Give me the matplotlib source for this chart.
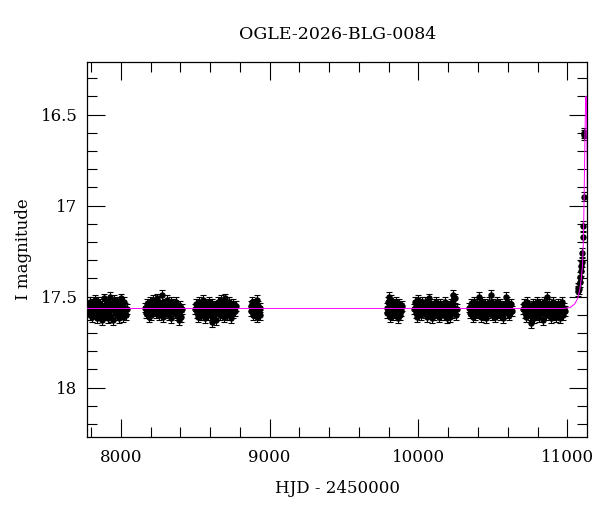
import matplotlib
matplotlib.use("Agg")
import matplotlib.pyplot as plt
from matplotlib.ticker import MultipleLocator

plt.rcParams['font.family'] = ['DejaVu Serif']

title = "OGLE-2026-BLG-0084"

# season 1
t1 = [7782, 7786, 7790, 7794, 7799, 7803, 7807, 7811, 7816, 7820,
      7824, 7829, 7833, 7837, 7842, 7846, 7850, 7855, 7859, 7863,
      7868, 7872, 7876, 7881, 7885, 7889, 7894, 7898, 7902, 7907,
      7911, 7915, 7920, 7924, 7928, 7933, 7937, 7941, 7946, 7950,
      7954, 7959, 7963, 7967, 7972, 7976, 7980, 7985, 7989, 7993,
      7998, 8002, 8006, 8011, 8015, 8019, 8024, 8028, 8032, 8040]
m1 = [17.57, 17.55, 17.60, 17.53, 17.58, 17.56, 17.61, 17.54, 17.57, 17.59,
      17.52, 17.58, 17.55, 17.62, 17.56, 17.53, 17.59, 17.57, 17.54, 17.60,
      17.56, 17.63, 17.55, 17.58, 17.51, 17.57, 17.60, 17.54, 17.59, 17.56,
      17.62, 17.53, 17.58, 17.55, 17.50, 17.57, 17.61, 17.54, 17.63, 17.56,
      17.52, 17.59, 17.57, 17.55, 17.60, 17.53, 17.58, 17.62, 17.56, 17.54,
      17.59, 17.51, 17.57, 17.55, 17.61, 17.58, 17.53, 17.56, 17.60, 17.57]

# season 2
t2 = [8164, 8169, 8175, 8179, 8184, 8190, 8194, 8199, 8205, 8210,
      8214, 8219, 8225, 8229, 8235, 8240, 8244, 8249, 8255, 8259,
      8264, 8270, 8274, 8280, 8285, 8289, 8295, 8299, 8304, 8310,
      8315, 8319, 8324, 8330, 8334, 8340, 8345, 8349, 8354, 8360,
      8365, 8369, 8374, 8380, 8384, 8390, 8395, 8399, 8404, 8409]
m2 = [17.56, 17.59, 17.54, 17.58, 17.55, 17.61, 17.53, 17.57, 17.60, 17.55,
      17.52, 17.58, 17.56, 17.54, 17.59, 17.51, 17.57, 17.55, 17.60, 17.53,
      17.56, 17.58, 17.49, 17.55, 17.61, 17.57, 17.54, 17.59, 17.56, 17.52,
      17.58, 17.55, 17.60, 17.57, 17.53, 17.62, 17.56, 17.54, 17.58, 17.55,
      17.59, 17.57, 17.53, 17.60, 17.56, 17.63, 17.55, 17.58, 17.61, 17.57]

# season 3
t3 = [8500, 8505, 8510, 8515, 8521, 8526, 8531, 8536, 8541, 8546,
      8551, 8556, 8561, 8566, 8571, 8576, 8581, 8586, 8591, 8596,
      8601, 8606, 8611, 8616, 8621, 8626, 8631, 8636, 8641, 8646,
      8651, 8656, 8661, 8666, 8671, 8676, 8681, 8686, 8691, 8696,
      8701, 8706, 8711, 8716, 8721, 8726, 8731, 8736, 8741, 8746,
      8751, 8756, 8761, 8766, 8772]
m3 = [17.57, 17.54, 17.59, 17.56, 17.61, 17.53, 17.58, 17.55, 17.60, 17.57,
      17.52, 17.59, 17.56, 17.62, 17.54, 17.58, 17.55, 17.60, 17.57, 17.53,
      17.60, 17.56, 17.64, 17.54, 17.61, 17.57, 17.55, 17.59, 17.63, 17.56,
      17.53, 17.58, 17.55, 17.60, 17.57, 17.52, 17.59, 17.56, 17.54, 17.61,
      17.51, 17.57, 17.55, 17.60, 17.56, 17.53, 17.58, 17.55, 17.62, 17.57,
      17.54, 17.59, 17.56, 17.58, 17.55]

# season 4
t4 = [8872, 8877, 8882, 8887, 8892, 8897, 8902, 8907, 8912, 8917, 8922, 8927, 8932, 8938]
m4 = [17.55, 17.58, 17.53, 17.60, 17.56, 17.54, 17.59, 17.57, 17.52, 17.61, 17.55, 17.58, 17.56, 17.60]

# season 5
t5 = [9786, 9791, 9796, 9801, 9806, 9811, 9816, 9821, 9826, 9831, 9836,
      9841, 9846, 9851, 9856, 9861, 9866, 9871, 9876, 9881, 9886, 9890]
m5 = [17.56, 17.59, 17.53, 17.50, 17.55, 17.61, 17.52, 17.57, 17.54, 17.60, 17.56,
      17.58, 17.53, 17.59, 17.55, 17.62, 17.57, 17.54, 17.60, 17.56, 17.58, 17.55]

# season 6
t6 = [9970, 9975, 9981, 9985, 9990, 9996, 10000, 10005, 10011, 10015,
      10020, 10026, 10030, 10035, 10041, 10045, 10050, 10056, 10060, 10065,
      10068, 10075, 10080, 10086, 10090, 10095, 10101, 10105, 10110, 10116,
      10120, 10125, 10131, 10135, 10140, 10146, 10150, 10155, 10161, 10165,
      10170, 10176, 10180, 10185, 10191, 10195, 10200, 10206, 10210, 10215,
      10220, 10226, 10230, 10234, 10240, 10245, 10252, 10260]
m6 = [17.57, 17.53, 17.59, 17.55, 17.61, 17.56, 17.52, 17.58, 17.54, 17.60,
      17.56, 17.53, 17.57, 17.55, 17.59, 17.53, 17.58, 17.56, 17.61, 17.54,
      17.51, 17.55, 17.59, 17.55, 17.62, 17.57, 17.54, 17.60, 17.56, 17.58,
      17.53, 17.59, 17.55, 17.61, 17.57, 17.54, 17.60, 17.56, 17.58, 17.55,
      17.60, 17.57, 17.53, 17.59, 17.56, 17.62, 17.55, 17.58, 17.61, 17.57,
      17.54, 17.59, 17.52, 17.49, 17.56, 17.51, 17.60, 17.57]

# season 7
t7 = [10340, 10345, 10351, 10355, 10360, 10366, 10370, 10375, 10381, 10385,
      10390, 10396, 10400, 10405, 10411, 10415, 10420, 10426, 10430, 10435,
      10441, 10445, 10450, 10456, 10460, 10465, 10471, 10475, 10480, 10486,
      10490, 10495, 10501, 10505, 10510, 10516, 10520, 10525, 10531, 10535,
      10540, 10546, 10550, 10555, 10561, 10565, 10570, 10576, 10580, 10585,
      10591, 10595, 10600, 10606, 10610, 10616, 10622, 10628]
m7 = [17.56, 17.59, 17.54, 17.58, 17.55, 17.61, 17.53, 17.57, 17.60, 17.55,
      17.58, 17.54, 17.59, 17.50, 17.57, 17.55, 17.61, 17.53, 17.58, 17.56,
      17.60, 17.54, 17.57, 17.62, 17.55, 17.59, 17.53, 17.58, 17.56, 17.49,
      17.57, 17.60, 17.54, 17.58, 17.55, 17.61, 17.56, 17.53, 17.59, 17.57,
      17.55, 17.60, 17.54, 17.58, 17.56, 17.62, 17.55, 17.59, 17.57, 17.50,
      17.56, 17.53, 17.59, 17.55, 17.60, 17.57, 17.54, 17.58]

# season 8
t8 = [10705, 10710, 10716, 10720, 10725, 10731, 10735, 10740, 10746, 10750,
      10754, 10760, 10765, 10770, 10776, 10780, 10785, 10791, 10795, 10800,
      10806, 10810, 10815, 10821, 10825, 10830, 10836, 10840, 10845, 10851,
      10855, 10860, 10864, 10870, 10875, 10881, 10885, 10890, 10896, 10900,
      10905, 10911, 10915, 10920, 10926, 10930, 10935, 10941, 10945, 10950,
      10956, 10960, 10966, 10972, 10978, 10985]
m8 = [17.57, 17.54, 17.59, 17.56, 17.61, 17.53, 17.58, 17.55, 17.60, 17.57,
      17.645, 17.56, 17.59, 17.54, 17.62, 17.57, 17.55, 17.60, 17.53, 17.58,
      17.56, 17.61, 17.54, 17.59, 17.57, 17.55, 17.63, 17.56, 17.53, 17.58,
      17.55, 17.60, 17.50, 17.57, 17.54, 17.59, 17.56, 17.62, 17.55, 17.58,
      17.53, 17.60, 17.57, 17.55, 17.61, 17.56, 17.54, 17.59, 17.57, 17.62,
      17.55, 17.58, 17.53, 17.60, 17.56, 17.58]

# rising part of the event
t_rise = [11070, 11074, 11078, 11083, 11087, 11091, 11095, 11098, 11102, 11104, 11106, 11109, 11112, 11114]
m_rise = [17.47, 17.45, 17.46, 17.42, 17.39, 17.36, 17.33, 17.31, 17.26, 17.17, 17.11, 16.95, 16.61, 16.60]

mag_err = 0.027

# model light curve (magenta)
t_model = [7775, 10975, 11020, 11050, 11070, 11084, 11094, 11102, 11107, 11110,
           11113, 11116, 11119, 11122, 11125, 11128, 11131, 11134, 11137]
m_model = [17.565, 17.565, 17.56, 17.54, 17.51, 17.46, 17.40, 17.33, 17.22, 17.10,
           16.95, 16.78, 16.60, 16.46, 16.40, 16.43, 16.60, 16.85, 17.05]

fig = plt.figure(figsize=(6, 5.12), dpi=100)
ax = fig.add_axes([0.1455, 0.147, 0.8335, 0.731])

seasons = [(t1, m1), (t2, m2), (t3, m3), (t4, m4), (t5, m5), (t6, m6), (t7, m7), (t8, m8), (t_rise, m_rise)]
for t, m in seasons:
    ax.errorbar(t, m, yerr=mag_err, fmt='o', color='black', ms=3.6,
                elinewidth=0.8, capsize=2.2, capthick=0.8, zorder=2)

ax.plot(t_model, m_model, color='#ff00ff', lw=0.7, zorder=3)

ax.set_xlim(7775, 11135)
ax.set_ylim(18.27, 16.213)

ax.xaxis.set_major_locator(MultipleLocator(1000))
ax.xaxis.set_minor_locator(MultipleLocator(200))
ax.yaxis.set_major_locator(MultipleLocator(0.5))
ax.yaxis.set_minor_locator(MultipleLocator(0.1))
ax.yaxis.set_major_formatter(plt.FuncFormatter(lambda v, p: f"{v:g}"))

ax.tick_params(which='both', direction='in', top=True, right=True, width=0.8, labelsize=12)
ax.tick_params(which='major', length=13)
ax.tick_params(which='minor', length=7)
ax.tick_params(axis='x', pad=9)
ax.tick_params(axis='y', pad=7)
for s in ax.spines.values():
    s.set_linewidth(0.9)

ax.set_xlabel('HJD - 2450000', fontsize=12, labelpad=10)
ax.set_ylabel('I magnitude', fontsize=12, labelpad=6)
ax.set_title(title, fontsize=12.5, pad=17)

fig.savefig("out.png", dpi=100)
